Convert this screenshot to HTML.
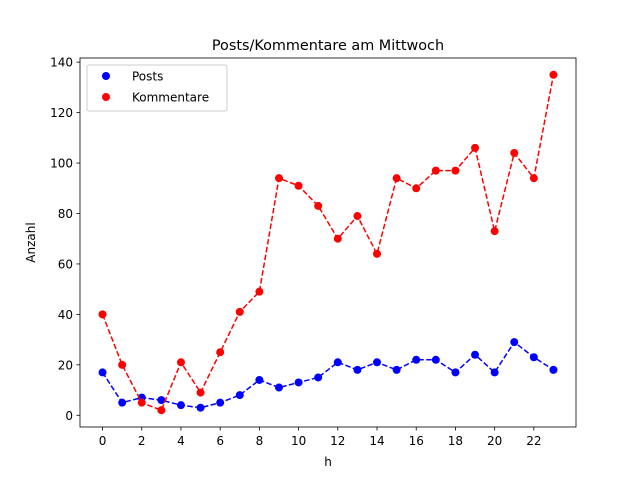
<!DOCTYPE html>
<html><head><meta charset="utf-8"><style>body{margin:0;background:#fff}svg{font-family:"DejaVu Sans","Liberation Sans",sans-serif}</style></head>
<body>
<svg id="c" width="640" height="480" xmlns="http://www.w3.org/2000/svg"></svg>
<script>
const hours=[0,1,2,3,4,5,6,7,8,9,10,11,12,13,14,15,16,17,18,19,20,21,22,23];
const posts=[17,5,7,6,4,3,5,8,14,11,13,15,21,18,21,18,22,22,17,24,17,29,23,18];
const kommentare=[40,20,5,2,21,9,25,41,49,94,91,83,70,79,64,94,90,97,97,106,73,104,94,135];
const xTicks=[0,2,4,6,8,10,12,14,16,18,20,22];
const yTicks=[0,20,40,60,80,100,120,140];
const L=80,R=576,T=58,B=427,xmin=-1.15,xmax=24.15,ymin=-4.65,ymax=141.65;
const X=v=>L+(v-xmin)/(xmax-xmin)*(R-L), Y=v=>B-(v-ymin)/(ymax-ymin)*(B-T);
const s=document.getElementById('c'),NS='http://www.w3.org/2000/svg';
function el(t,a,p,txt){const e=document.createElementNS(NS,t);for(const k in a)e.setAttribute(k,a[k]);if(txt!==undefined)e.textContent=txt;(p||s).appendChild(e);return e;}
const t=el('text',{x:328,y:50,'text-anchor':'middle','font-size':14.4},s,'Posts/Kommentare am Mittwoch');

xTicks.forEach(v=>{const g=el('g',{});
el('line',{x1:X(v),x2:X(v),y1:B,y2:B+3.5,stroke:'#000','stroke-width':0.8},g);el('text',{x:X(v),y:B+18,'text-anchor':'middle','font-size':12},g,v);});
yTicks.forEach(v=>{const g=el('g',{});
el('line',{x1:L-3.5,x2:L,y1:Y(v),y2:Y(v),stroke:'#000','stroke-width':0.8},g);el('text',{x:L-7,y:Y(v)+4.5,'text-anchor':'end','font-size':12},g,v);});
const xl=el('text',{x:328,y:466,'text-anchor':'middle','font-size':12},s,'h');
const yl=el('text',{x:0,y:0,'text-anchor':'middle','font-size':12,transform:`translate(35,${(T+B)/2}) rotate(-90)`},s,'Anzahl');
function series(d,c,name){const g=el('g',{});
el('polyline',{points:d.map((v,i)=>X(hours[i])+','+Y(v)).join(' '),fill:'none',stroke:c,'stroke-width':1.5,'stroke-dasharray':'5.5,2.4'},g);
d.forEach((v,i)=>{const p=el('circle',{cx:X(hours[i]),cy:Y(v),r:4,fill:c},g);});}
series(posts,'#0000ff','posts-series');series(kommentare,'#ff0000','kommentare-series');
const fr=el('rect',{x:L,y:T,width:R-L,height:B-T,fill:'none',stroke:'#000','stroke-width':0.8});
const lg=el('g',{});
el('rect',{x:87,y:65,width:140,height:46,rx:2,fill:'#fff','fill-opacity':0.8,stroke:'#ccc'},lg);
[['Posts','#0000ff',76],['Kommentare','#ff0000',97]].forEach(([n,c,y])=>{const g=el('g',{},lg);
el('circle',{cx:106,cy:y,r:4,fill:c},g);el('text',{x:132,y:y+4.5,'font-size':12},g,n);});
</script>
</body></html>
